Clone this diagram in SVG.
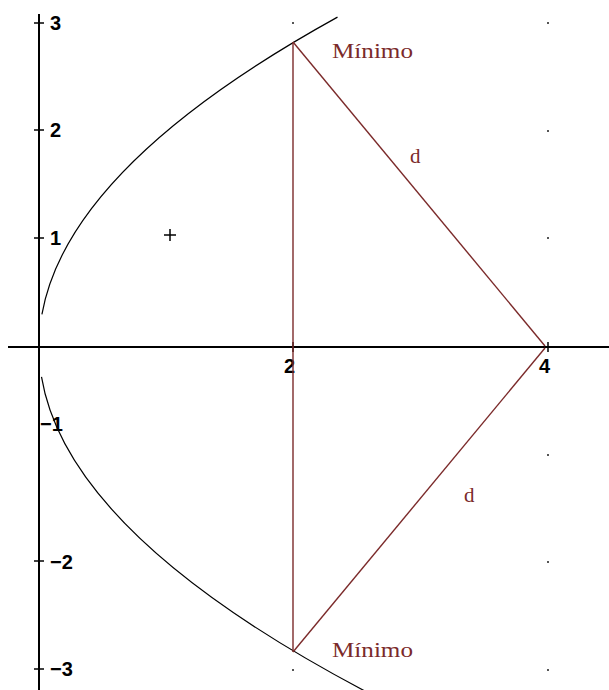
<svg xmlns="http://www.w3.org/2000/svg" width="609" height="690" viewBox="0 0 609 690">
<style>
.axis{stroke:#000;stroke-width:2;fill:none}
.tick{stroke:#000;stroke-width:1.5}
.curve{stroke:#000;stroke-width:1.2;fill:none}
.red{stroke:#7b2a2a;stroke-width:1.4;fill:none}
.num{font-family:"Liberation Sans",Arial,sans-serif;font-weight:bold;font-size:20px;fill:#000}
.lbl{font-family:"Liberation Serif","Times New Roman",serif;font-size:21px;fill:#7b2a2a}
.dot{fill:#555}
</style>
<rect width="609" height="690" fill="#fff"/>
<g id="axes">
<line class="axis" x1="8" y1="347" x2="609" y2="347"/>
<line class="axis" x1="39" y1="14" x2="39" y2="690"/>
<g class="tick">
<line x1="34" y1="23" x2="44" y2="23"/>
<line x1="34" y1="130" x2="44" y2="130"/>
<line x1="34" y1="238" x2="44" y2="238"/>
<line x1="34" y1="561" x2="44" y2="561"/>
<line x1="34" y1="669" x2="44" y2="669"/>
<line x1="293" y1="342" x2="293" y2="352"/>
<line x1="548" y1="342" x2="548" y2="352"/>
</g>
<g class="num">
<text x="50" y="30">3</text>
<text x="50" y="137">2</text>
<text x="50" y="245">1</text>
<text x="40" y="431">−1</text>
<text x="50" y="569">−2</text>
<text x="50" y="676">−3</text>
<text x="284" y="373">2</text>
<text x="539" y="373">4</text>
</g>
</g>
<g id="grid-dots">
<rect class="dot" x="292" y="22" width="2" height="2"/>
<rect class="dot" x="292" y="669" width="2" height="2"/>
<rect class="dot" x="547" y="22" width="2" height="2"/>
<rect class="dot" x="547" y="130" width="2" height="2"/>
<rect class="dot" x="547" y="237" width="2" height="2"/>
<rect class="dot" x="547" y="454" width="2" height="2"/>
<rect class="dot" x="547" y="561" width="2" height="2"/>
<rect class="dot" x="547" y="669" width="2" height="2"/>
</g>
<g id="parabola">
<path class="curve" d="M41.9,314.4 Q68.3,165.8 337.5,17.1"/>
<path class="curve" d="M41.5,376.9 Q67.6,534.1 365.4,691.3"/>
</g>
<g id="focus">
<line class="tick" x1="164" y1="235" x2="176" y2="235"/>
<line class="tick" x1="170" y1="229" x2="170" y2="241"/>
</g>
<g id="connectors">
<line class="red" x1="293" y1="42" x2="293" y2="652"/>
<line class="red" x1="293" y1="42" x2="545" y2="346"/>
<line class="red" x1="545" y1="348" x2="293" y2="652"/>
</g>
<g id="labels">
<text class="lbl" x="332" y="58" textLength="81" lengthAdjust="spacingAndGlyphs">Mínimo</text>
<text class="lbl" x="332" y="657" textLength="81" lengthAdjust="spacingAndGlyphs">Mínimo</text>
<text class="lbl" x="410" y="163">d</text>
<text class="lbl" x="464" y="502">d</text>
</g>
</svg>
